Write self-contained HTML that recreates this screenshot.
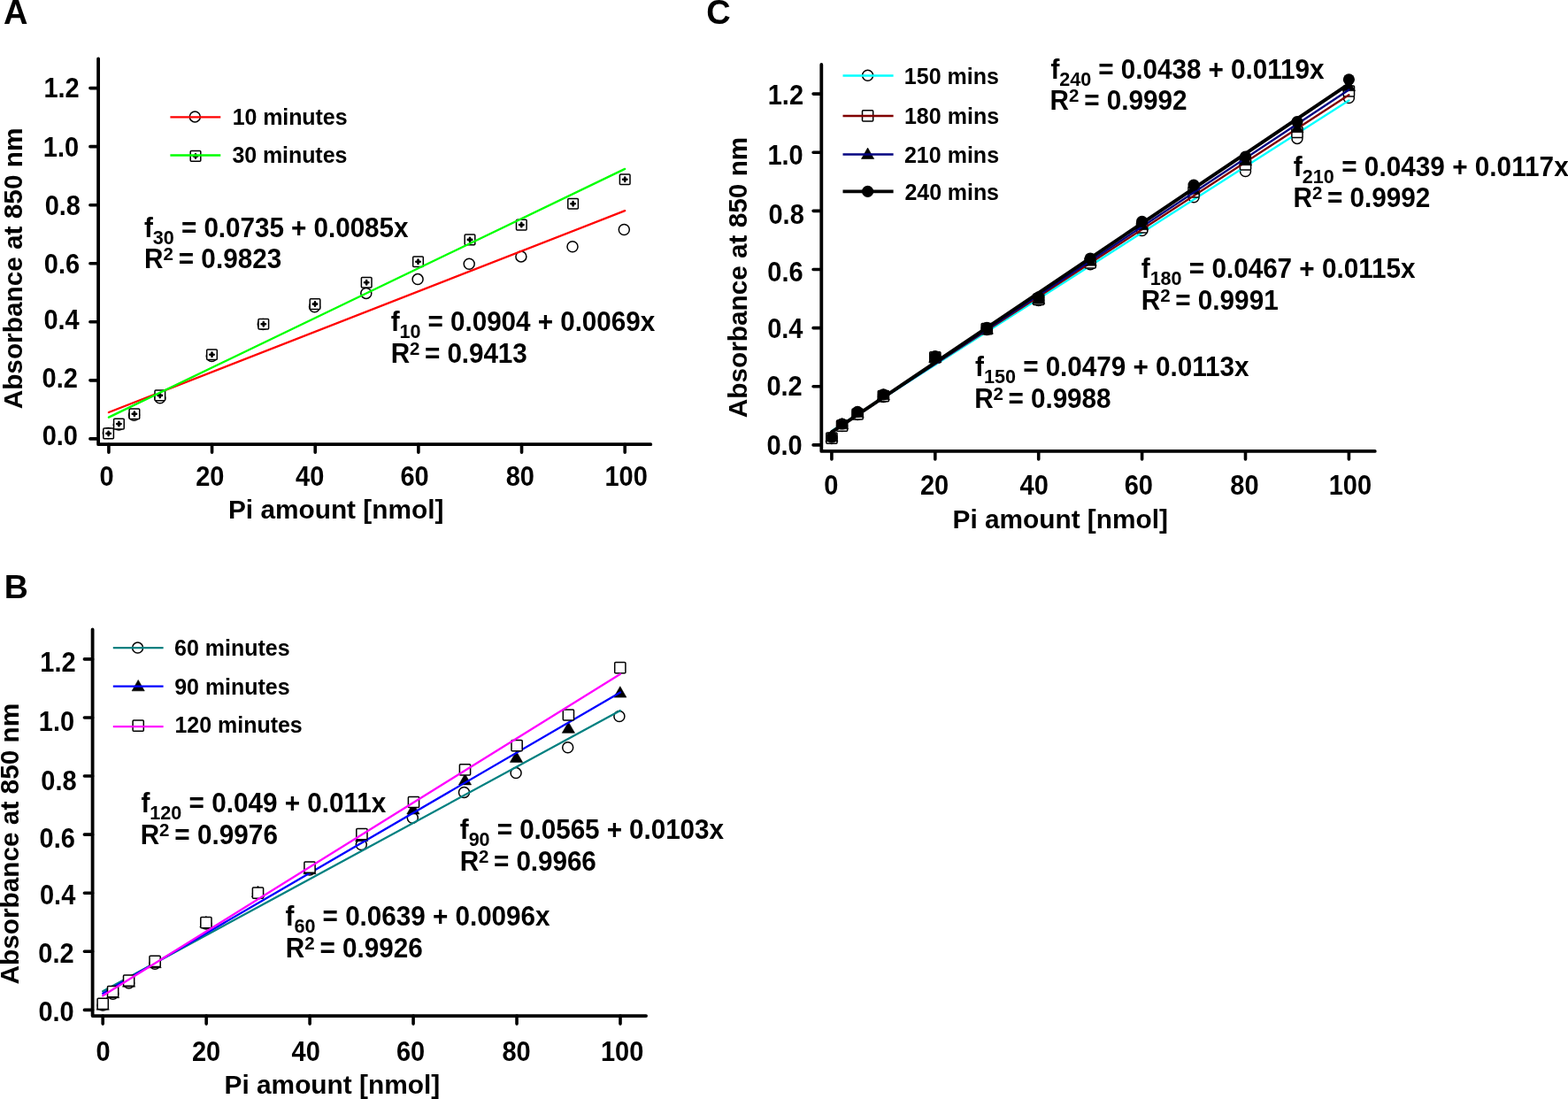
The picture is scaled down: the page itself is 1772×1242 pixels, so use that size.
<!DOCTYPE html><html><head><meta charset="utf-8"><title>Pi calibration curves</title><style>html,body{margin:0;padding:0;background:#fff;overflow:hidden}svg{display:block}</style></head><body>
<svg width="1772" height="1242" viewBox="0 0 1772 1242" style="font-family:'Liberation Sans',Arial,Helvetica,sans-serif;font-weight:bold">
<rect width="1772" height="1242" fill="#fff"/>
<text transform="translate(4.01 27)" font-size="38">A</text>
<path d="M111.1 66.3L111.1 502.2L735.3 502.2" fill="none" stroke="#000" stroke-width="3.8" stroke-linecap="round" stroke-linejoin="round"/>
<path d="M111.1 495.9H101.9M111.1 429.85H101.9M111.1 363.8H101.9M111.1 297.75H101.9M111.1 231.7H101.9M111.1 165.65H101.9M111.1 99.6H101.9M122.9 502.2V511.2M239.56 502.2V511.2M356.22 502.2V511.2M472.88 502.2V511.2M589.54 502.2V511.2M706.2 502.2V511.2" fill="none" stroke="#000" stroke-width="3.6" stroke-linecap="round"/>
<text transform="translate(87.98 503.11) scale(1 1.05)" font-size="29" text-anchor="end">0.0</text>
<text transform="translate(87.9 437.82) scale(1 1.05)" font-size="29" text-anchor="end">0.2</text>
<text transform="translate(89.69 371.98) scale(1 1.05)" font-size="29" text-anchor="end">0.4</text>
<text transform="translate(90.15 308.94) scale(1 1.05)" font-size="29" text-anchor="end">0.6</text>
<text transform="translate(90.96 243.2) scale(1 1.05)" font-size="29" text-anchor="end">0.8</text>
<text transform="translate(89.12 176.63) scale(1 1.05)" font-size="29" text-anchor="end">1.0</text>
<text transform="translate(89.74 110.29) scale(1 1.05)" font-size="29" text-anchor="end">1.2</text>
<text transform="translate(120.57 549.2) scale(1 1.05)" font-size="29" text-anchor="middle">0</text>
<text transform="translate(237.32 549.2) scale(1 1.05)" font-size="29" text-anchor="middle">20</text>
<text transform="translate(350.23 549.2) scale(1 1.05)" font-size="29" text-anchor="middle">40</text>
<text transform="translate(468.5 549.2) scale(1 1.05)" font-size="29" text-anchor="middle">60</text>
<text transform="translate(587.8 549.2) scale(1 1.05)" font-size="29" text-anchor="middle">80</text>
<text transform="translate(707.57 549.2) scale(1 1.05)" font-size="29" text-anchor="middle">100</text>
<text transform="translate(25.42 303.48) rotate(-90) scale(1.0451 1.04)" font-size="28.5" text-anchor="middle">Absorbance at 850 nm</text>
<text transform="translate(379.65 586.38) scale(1.0283 1)" font-size="29" text-anchor="middle">Pi amount [nmol]</text>
<circle cx="122.3" cy="489.6" r="6" fill="#fff" stroke="#000" stroke-width="1.5"/>
<circle cx="134.3" cy="480" r="6" fill="#fff" stroke="#000" stroke-width="1.5"/>
<circle cx="151.5" cy="469.3" r="6" fill="#fff" stroke="#000" stroke-width="1.5"/>
<circle cx="180.8" cy="449.8" r="6" fill="#fff" stroke="#000" stroke-width="1.5"/>
<circle cx="239.3" cy="402.6" r="6" fill="#fff" stroke="#000" stroke-width="1.5"/>
<circle cx="297.3" cy="366.6" r="6" fill="#fff" stroke="#000" stroke-width="1.5"/>
<circle cx="355.5" cy="346.8" r="6" fill="#fff" stroke="#000" stroke-width="1.5"/>
<circle cx="413.8" cy="331.4" r="6" fill="#fff" stroke="#000" stroke-width="1.5"/>
<circle cx="472.1" cy="315.6" r="6" fill="#fff" stroke="#000" stroke-width="1.5"/>
<circle cx="530.2" cy="298.3" r="6" fill="#fff" stroke="#000" stroke-width="1.5"/>
<circle cx="588.9" cy="289.9" r="6" fill="#fff" stroke="#000" stroke-width="1.5"/>
<circle cx="647" cy="278.7" r="6" fill="#fff" stroke="#000" stroke-width="1.5"/>
<circle cx="705.3" cy="259.5" r="6" fill="#fff" stroke="#000" stroke-width="1.5"/>
<path d="M122.9 466.05L706.2 238.17" stroke="#ff0000" stroke-width="2.3" stroke-linecap="round"/>
<rect x="116.8" y="484.1" width="11.6" height="11.6" rx="1" fill="#fff" stroke="#000" stroke-width="1.5"/>
<path d="M120.4 489.9h4.4M122.6 487.7v4.4" stroke="#000" stroke-width="2.6" stroke-linecap="round"/>
<rect x="128.6" y="473.3" width="11.6" height="11.6" rx="1" fill="#fff" stroke="#000" stroke-width="1.5"/>
<path d="M132.2 479.1h4.4M134.4 476.9v4.4" stroke="#000" stroke-width="2.6" stroke-linecap="round"/>
<rect x="146.1" y="461.9" width="11.6" height="11.6" rx="1" fill="#fff" stroke="#000" stroke-width="1.5"/>
<path d="M149.7 467.7h4.4M151.9 465.5v4.4" stroke="#000" stroke-width="2.6" stroke-linecap="round"/>
<rect x="175" y="441.1" width="11.6" height="11.6" rx="1" fill="#fff" stroke="#000" stroke-width="1.5"/>
<path d="M178.6 446.9h4.4M180.8 444.7v4.4" stroke="#000" stroke-width="2.6" stroke-linecap="round"/>
<rect x="233.7" y="394.9" width="11.6" height="11.6" rx="1" fill="#fff" stroke="#000" stroke-width="1.5"/>
<path d="M237.3 400.7h4.4M239.5 398.5v4.4" stroke="#000" stroke-width="2.6" stroke-linecap="round"/>
<rect x="292" y="360.4" width="11.6" height="11.6" rx="1" fill="#fff" stroke="#000" stroke-width="1.5"/>
<path d="M295.6 366.2h4.4M297.8 364v4.4" stroke="#000" stroke-width="2.6" stroke-linecap="round"/>
<rect x="350.2" y="337.8" width="11.6" height="11.6" rx="1" fill="#fff" stroke="#000" stroke-width="1.5"/>
<path d="M353.8 343.6h4.4M356 341.4v4.4" stroke="#000" stroke-width="2.6" stroke-linecap="round"/>
<rect x="408.4" y="313.5" width="11.6" height="11.6" rx="1" fill="#fff" stroke="#000" stroke-width="1.5"/>
<path d="M412 319.3h4.4M414.2 317.1v4.4" stroke="#000" stroke-width="2.6" stroke-linecap="round"/>
<rect x="466.7" y="290" width="11.6" height="11.6" rx="1" fill="#fff" stroke="#000" stroke-width="1.5"/>
<path d="M470.3 295.8h4.4M472.5 293.6v4.4" stroke="#000" stroke-width="2.6" stroke-linecap="round"/>
<rect x="525.2" y="265.1" width="11.6" height="11.6" rx="1" fill="#fff" stroke="#000" stroke-width="1.5"/>
<path d="M528.8 270.9h4.4M531 268.7v4.4" stroke="#000" stroke-width="2.6" stroke-linecap="round"/>
<rect x="583.5" y="248.3" width="11.6" height="11.6" rx="1" fill="#fff" stroke="#000" stroke-width="1.5"/>
<path d="M587.1 254.1h4.4M589.3 251.9v4.4" stroke="#000" stroke-width="2.6" stroke-linecap="round"/>
<rect x="641.8" y="224.5" width="11.6" height="11.6" rx="1" fill="#fff" stroke="#000" stroke-width="1.5"/>
<path d="M645.4 230.3h4.4M647.6 228.1v4.4" stroke="#000" stroke-width="2.6" stroke-linecap="round"/>
<rect x="700.4" y="196.9" width="11.6" height="11.6" rx="1" fill="#fff" stroke="#000" stroke-width="1.5"/>
<path d="M704 202.7h4.4M706.2 200.5v4.4" stroke="#000" stroke-width="2.6" stroke-linecap="round"/>
<path d="M122.9 471.63L706.2 190.91" stroke="#00ff00" stroke-width="2.3" stroke-linecap="round"/>
<circle cx="220.3" cy="131.9" r="6" fill="#fff" stroke="#000" stroke-width="1.5"/>
<path d="M192.4 132.3H249.3" stroke="#ff0000" stroke-width="2.3"/>
<rect x="215.2" y="170.6" width="11.6" height="11.6" rx="1" fill="#fff" stroke="#000" stroke-width="1.5"/>
<path d="M218.8 176.4h4.4M221 174.2v4.4" stroke="#000" stroke-width="2.6" stroke-linecap="round"/>
<path d="M192.4 175.5H249.3" stroke="#00ff00" stroke-width="2.3"/>
<text transform="translate(262.65 141.16)" font-size="25" letter-spacing="-0.08">10 minutes</text>
<text transform="translate(262.39 184.2)" font-size="25" letter-spacing="-0.07">30 minutes</text>
<text transform="translate(162.98 267.85) scale(1 1.03)" font-size="29.7" letter-spacing="-0.05">f<tspan font-size="21.6" dy="7.9">30</tspan><tspan dy="-7.9"> = 0.0735 + 0.0085x</tspan></text>
<text transform="translate(162.96 303.05) scale(1 1.03)" font-size="29.7" letter-spacing="0.05">R<tspan font-size="20.5" dy="-9">2</tspan><tspan dy="9" font-size="20.5"> </tspan>= 0.9823</text>
<text transform="translate(441.65 373.85) scale(1 1.03)" font-size="29.7" letter-spacing="-0.05">f<tspan font-size="21.6" dy="7.9">10</tspan><tspan dy="-7.9"> = 0.0904 + 0.0069x</tspan></text>
<text transform="translate(441.73 409.85) scale(1 1.03)" font-size="29.7" letter-spacing="-0.09">R<tspan font-size="20.5" dy="-9">2</tspan><tspan dy="9" font-size="20.5"> </tspan>= 0.9413</text>
<text transform="translate(4.66 675.57)" font-size="37.5">B</text>
<path d="M104.6 711.5L104.6 1148.1L730.1 1148.1" fill="none" stroke="#000" stroke-width="3.8" stroke-linecap="round" stroke-linejoin="round"/>
<path d="M104.6 1141.4H95.4M104.6 1075.32H95.4M104.6 1009.23H95.4M104.6 943.15H95.4M104.6 877.07H95.4M104.6 810.98H95.4M104.6 744.9H95.4M116.2 1148.1V1157.1M233.16 1148.1V1157.1M350.12 1148.1V1157.1M467.08 1148.1V1157.1M584.04 1148.1V1157.1M701 1148.1V1157.1" fill="none" stroke="#000" stroke-width="3.6" stroke-linecap="round"/>
<text transform="translate(83.69 1153.52) scale(1 1.05)" font-size="29" text-anchor="end">0.0</text>
<text transform="translate(83.58 1087.94) scale(1 1.05)" font-size="29" text-anchor="end">0.2</text>
<text transform="translate(85.26 1022.35) scale(1 1.05)" font-size="29" text-anchor="end">0.4</text>
<text transform="translate(84.86 958.3) scale(1 1.05)" font-size="29" text-anchor="end">0.6</text>
<text transform="translate(86.6 893.48) scale(1 1.05)" font-size="29" text-anchor="end">0.8</text>
<text transform="translate(84.12 826.43) scale(1 1.05)" font-size="29" text-anchor="end">1.0</text>
<text transform="translate(85.58 758.54) scale(1 1.05)" font-size="29" text-anchor="end">1.2</text>
<text transform="translate(116.57 1199.45) scale(1 1.05)" font-size="29" text-anchor="middle">0</text>
<text transform="translate(233.11 1199.45) scale(1 1.05)" font-size="29" text-anchor="middle">20</text>
<text transform="translate(345.7 1199.45) scale(1 1.05)" font-size="29" text-anchor="middle">40</text>
<text transform="translate(464.02 1199.45) scale(1 1.05)" font-size="29" text-anchor="middle">60</text>
<text transform="translate(583.6 1199.45) scale(1 1.05)" font-size="29" text-anchor="middle">80</text>
<text transform="translate(703.13 1199.45) scale(1 1.05)" font-size="29" text-anchor="middle">100</text>
<text transform="translate(21.34 953.68) rotate(-90) scale(1.0454 1.04)" font-size="28.5" text-anchor="middle">Absorbance at 850 nm</text>
<text transform="translate(375.34 1236.24) scale(1.0294 1)" font-size="29" text-anchor="middle">Pi amount [nmol]</text>
<circle cx="116.2" cy="1136" r="6" fill="#fff" stroke="#000" stroke-width="1.5"/>
<circle cx="127.6" cy="1123.3" r="6" fill="#fff" stroke="#000" stroke-width="1.5"/>
<circle cx="145.6" cy="1111" r="6" fill="#fff" stroke="#000" stroke-width="1.5"/>
<circle cx="175.1" cy="1089.3" r="6" fill="#fff" stroke="#000" stroke-width="1.5"/>
<circle cx="232.9" cy="1044" r="6" fill="#fff" stroke="#000" stroke-width="1.5"/>
<circle cx="291.5" cy="1010" r="6" fill="#fff" stroke="#000" stroke-width="1.5"/>
<circle cx="350" cy="983" r="6" fill="#fff" stroke="#000" stroke-width="1.5"/>
<circle cx="408.3" cy="954.6" r="6" fill="#fff" stroke="#000" stroke-width="1.5"/>
<circle cx="466.3" cy="924.3" r="6" fill="#fff" stroke="#000" stroke-width="1.5"/>
<circle cx="524.5" cy="895.4" r="6" fill="#fff" stroke="#000" stroke-width="1.5"/>
<circle cx="583.1" cy="873.6" r="6" fill="#fff" stroke="#000" stroke-width="1.5"/>
<circle cx="641.7" cy="844.7" r="6" fill="#fff" stroke="#000" stroke-width="1.5"/>
<circle cx="699.9" cy="809.5" r="6" fill="#fff" stroke="#000" stroke-width="1.5"/>
<path d="M116.2 1120.29L701 803.09" stroke="#008080" stroke-width="2.3" stroke-linecap="round"/>
<path d="M116.2 1128.8L123.3 1141.2L109.1 1141.2Z" fill="#000" stroke="#000" stroke-width="0.6"/>
<path d="M127.6 1115.3L134.7 1127.7L120.5 1127.7Z" fill="#000" stroke="#000" stroke-width="0.6"/>
<path d="M145.6 1102.8L152.7 1115.2L138.5 1115.2Z" fill="#000" stroke="#000" stroke-width="0.6"/>
<path d="M175.1 1081.3L182.2 1093.7L168 1093.7Z" fill="#000" stroke="#000" stroke-width="0.6"/>
<path d="M232.9 1035.3L240 1047.7L225.8 1047.7Z" fill="#000" stroke="#000" stroke-width="0.6"/>
<path d="M291.5 1001.1L298.6 1013.5L284.4 1013.5Z" fill="#000" stroke="#000" stroke-width="0.6"/>
<path d="M350 975.3L357.1 987.7L342.9 987.7Z" fill="#000" stroke="#000" stroke-width="0.6"/>
<path d="M408.7 938.3L415.8 950.7L401.6 950.7Z" fill="#000" stroke="#000" stroke-width="0.6"/>
<path d="M466.9 907.6L474 920L459.8 920Z" fill="#000" stroke="#000" stroke-width="0.6"/>
<path d="M525.5 874.5L532.6 886.9L518.4 886.9Z" fill="#000" stroke="#000" stroke-width="0.6"/>
<path d="M583.5 849L590.6 861.4L576.4 861.4Z" fill="#000" stroke="#000" stroke-width="0.6"/>
<path d="M642.4 815.9L649.5 828.3L635.3 828.3Z" fill="#000" stroke="#000" stroke-width="0.6"/>
<path d="M700.8 775.7L707.9 788.1L693.7 788.1Z" fill="#000" stroke="#000" stroke-width="0.6"/>
<path d="M116.2 1122.73L701 782.4" stroke="#0000ff" stroke-width="2.3" stroke-linecap="round"/>
<rect x="110.1" y="1128.2" width="12.2" height="12.2" rx="1" fill="#fff" stroke="#000" stroke-width="1.5"/>
<rect x="121.5" y="1114.6" width="12.2" height="12.2" rx="1" fill="#fff" stroke="#000" stroke-width="1.5"/>
<rect x="139.5" y="1102" width="12.2" height="12.2" rx="1" fill="#fff" stroke="#000" stroke-width="1.5"/>
<rect x="169" y="1080.3" width="12.2" height="12.2" rx="1" fill="#fff" stroke="#000" stroke-width="1.5"/>
<rect x="226.8" y="1036.6" width="12.2" height="12.2" rx="1" fill="#fff" stroke="#000" stroke-width="1.5"/>
<rect x="285.4" y="1003" width="12.2" height="12.2" rx="1" fill="#fff" stroke="#000" stroke-width="1.5"/>
<rect x="343.9" y="974.1" width="12.2" height="12.2" rx="1" fill="#fff" stroke="#000" stroke-width="1.5"/>
<rect x="402.8" y="936.6" width="12.2" height="12.2" rx="1" fill="#fff" stroke="#000" stroke-width="1.5"/>
<rect x="461.4" y="900.4" width="12.2" height="12.2" rx="1" fill="#fff" stroke="#000" stroke-width="1.5"/>
<rect x="519.4" y="863.7" width="12.2" height="12.2" rx="1" fill="#fff" stroke="#000" stroke-width="1.5"/>
<rect x="578" y="836.5" width="12.2" height="12.2" rx="1" fill="#fff" stroke="#000" stroke-width="1.5"/>
<rect x="636.3" y="801.9" width="12.2" height="12.2" rx="1" fill="#fff" stroke="#000" stroke-width="1.5"/>
<rect x="694.7" y="748.6" width="12.2" height="12.2" rx="1" fill="#fff" stroke="#000" stroke-width="1.5"/>
<path d="M116.2 1125.21L701 761.75" stroke="#ff00ff" stroke-width="2.3" stroke-linecap="round"/>
<circle cx="155.6" cy="732.1" r="6" fill="#fff" stroke="#000" stroke-width="1.5"/>
<path d="M127.8 732.1H184.6" stroke="#008080" stroke-width="2.3"/>
<path d="M156.2 768.4L163.3 780.8L149.1 780.8Z" fill="#000" stroke="#000" stroke-width="0.6"/>
<path d="M127.8 775.7H184.6" stroke="#0000ff" stroke-width="2.3"/>
<rect x="150.1" y="814" width="12.2" height="12.2" rx="1" fill="#fff" stroke="#000" stroke-width="1.5"/>
<path d="M127.8 821.2H184.6" stroke="#ff00ff" stroke-width="2.3"/>
<text transform="translate(197.09 740.8)" font-size="25" letter-spacing="-0.01">60 minutes</text>
<text transform="translate(197.22 784.54)" font-size="25" letter-spacing="-0.02">90 minutes</text>
<text transform="translate(197.42 828.28)" font-size="25" letter-spacing="-0.02">120 minutes</text>
<text transform="translate(159.41 917.85) scale(1 1.03)" font-size="29.7" letter-spacing="-0">f<tspan font-size="21.6" dy="7.9">120</tspan><tspan dy="-7.9"> = 0.049 + 0.011x</tspan></text>
<text transform="translate(158.63 953.95) scale(1 1.03)" font-size="29.7" letter-spacing="0.04">R<tspan font-size="20.5" dy="-9">2</tspan><tspan dy="9" font-size="20.5"> </tspan>= 0.9976</text>
<text transform="translate(519.85 948.05) scale(1 1.03)" font-size="29.7" letter-spacing="-0.07">f<tspan font-size="21.6" dy="7.9">90</tspan><tspan dy="-7.9"> = 0.0565 + 0.0103x</tspan></text>
<text transform="translate(519.65 984.15) scale(1 1.03)" font-size="29.7" letter-spacing="-0.07">R<tspan font-size="20.5" dy="-9">2</tspan><tspan dy="9" font-size="20.5"> </tspan>= 0.9966</text>
<text transform="translate(322.58 1046.25) scale(1 1.03)" font-size="29.7" letter-spacing="-0.03">f<tspan font-size="21.6" dy="7.9">60</tspan><tspan dy="-7.9"> = 0.0639 + 0.0096x</tspan></text>
<text transform="translate(322.87 1082.35) scale(1 1.03)" font-size="29.7" letter-spacing="0.01">R<tspan font-size="20.5" dy="-9">2</tspan><tspan dy="9" font-size="20.5"> </tspan>= 0.9926</text>
<text transform="translate(798.13 27.32)" font-size="38">C</text>
<path d="M928.3 73L928.3 509.9L1553.8 509.9" fill="none" stroke="#000" stroke-width="3.8" stroke-linecap="round" stroke-linejoin="round"/>
<path d="M928.3 502.9H919.1M928.3 436.77H919.1M928.3 370.63H919.1M928.3 304.5H919.1M928.3 238.37H919.1M928.3 172.23H919.1M928.3 106.1H919.1M939.9 509.9V518.9M1056.8 509.9V518.9M1173.7 509.9V518.9M1290.6 509.9V518.9M1407.5 509.9V518.9M1524.4 509.9V518.9" fill="none" stroke="#000" stroke-width="3.6" stroke-linecap="round"/>
<text transform="translate(906.75 513.76) scale(1 1.05)" font-size="29" text-anchor="end">0.0</text>
<text transform="translate(906.69 447.37) scale(1 1.05)" font-size="29" text-anchor="end">0.2</text>
<text transform="translate(907.46 381.73) scale(1 1.05)" font-size="29" text-anchor="end">0.4</text>
<text transform="translate(907.68 318.33) scale(1 1.05)" font-size="29" text-anchor="end">0.6</text>
<text transform="translate(908.76 252.99) scale(1 1.05)" font-size="29" text-anchor="end">0.8</text>
<text transform="translate(907.75 185.82) scale(1 1.05)" font-size="29" text-anchor="end">1.0</text>
<text transform="translate(908.05 118.45) scale(1 1.05)" font-size="29" text-anchor="end">1.2</text>
<text transform="translate(939.29 558.82) scale(1 1.05)" font-size="29" text-anchor="middle">0</text>
<text transform="translate(1056.05 558.75) scale(1 1.05)" font-size="29" text-anchor="middle">20</text>
<text transform="translate(1168.73 558.75) scale(1 1.05)" font-size="29" text-anchor="middle">40</text>
<text transform="translate(1286.8 558.75) scale(1 1.05)" font-size="29" text-anchor="middle">60</text>
<text transform="translate(1406.42 558.75) scale(1 1.05)" font-size="29" text-anchor="middle">80</text>
<text transform="translate(1525.85 558.75) scale(1 1.05)" font-size="29" text-anchor="middle">100</text>
<text transform="translate(843.92 313.45) rotate(-90) scale(1.0449 1.04)" font-size="28.5" text-anchor="middle">Absorbance at 850 nm</text>
<text transform="translate(1198.2 596.52) scale(1.0277 1)" font-size="29" text-anchor="middle">Pi amount [nmol]</text>
<circle cx="939.9" cy="495.5" r="6" fill="#fff" stroke="#000" stroke-width="1.5"/>
<circle cx="951.59" cy="481.5" r="6" fill="#fff" stroke="#000" stroke-width="1.5"/>
<circle cx="969.12" cy="468.5" r="6" fill="#fff" stroke="#000" stroke-width="1.5"/>
<circle cx="998.35" cy="448.5" r="6" fill="#fff" stroke="#000" stroke-width="1.5"/>
<circle cx="1056.8" cy="404.5" r="6" fill="#fff" stroke="#000" stroke-width="1.5"/>
<circle cx="1115.25" cy="372.5" r="6" fill="#fff" stroke="#000" stroke-width="1.5"/>
<circle cx="1173.7" cy="339.5" r="6" fill="#fff" stroke="#000" stroke-width="1.5"/>
<circle cx="1232.15" cy="298.8" r="6" fill="#fff" stroke="#000" stroke-width="1.5"/>
<circle cx="1290.6" cy="260.5" r="6" fill="#fff" stroke="#000" stroke-width="1.5"/>
<circle cx="1349.05" cy="222.8" r="6" fill="#fff" stroke="#000" stroke-width="1.5"/>
<circle cx="1407.5" cy="193.5" r="6" fill="#fff" stroke="#000" stroke-width="1.5"/>
<circle cx="1465.95" cy="156.4" r="6" fill="#fff" stroke="#000" stroke-width="1.5"/>
<circle cx="1524.4" cy="110.6" r="6" fill="#fff" stroke="#000" stroke-width="1.5"/>
<path d="M939.9 487.06L1524.4 113.41" stroke="#00ffff" stroke-width="2.3" stroke-linecap="round"/>
<rect x="933.8" y="489.1" width="12.2" height="12.2" rx="1" fill="#fff" stroke="#000" stroke-width="1.5"/>
<rect x="945.49" y="475.1" width="12.2" height="12.2" rx="1" fill="#fff" stroke="#000" stroke-width="1.5"/>
<rect x="963.02" y="461.9" width="12.2" height="12.2" rx="1" fill="#fff" stroke="#000" stroke-width="1.5"/>
<rect x="992.25" y="441.5" width="12.2" height="12.2" rx="1" fill="#fff" stroke="#000" stroke-width="1.5"/>
<rect x="1050.7" y="397.7" width="12.2" height="12.2" rx="1" fill="#fff" stroke="#000" stroke-width="1.5"/>
<rect x="1109.15" y="365.6" width="12.2" height="12.2" rx="1" fill="#fff" stroke="#000" stroke-width="1.5"/>
<rect x="1167.6" y="332.2" width="12.2" height="12.2" rx="1" fill="#fff" stroke="#000" stroke-width="1.5"/>
<rect x="1226.05" y="290.9" width="12.2" height="12.2" rx="1" fill="#fff" stroke="#000" stroke-width="1.5"/>
<rect x="1284.5" y="250.9" width="12.2" height="12.2" rx="1" fill="#fff" stroke="#000" stroke-width="1.5"/>
<rect x="1342.95" y="210.7" width="12.2" height="12.2" rx="1" fill="#fff" stroke="#000" stroke-width="1.5"/>
<rect x="1401.4" y="179.9" width="12.2" height="12.2" rx="1" fill="#fff" stroke="#000" stroke-width="1.5"/>
<rect x="1459.85" y="143.4" width="12.2" height="12.2" rx="1" fill="#fff" stroke="#000" stroke-width="1.5"/>
<rect x="1518.3" y="96.9" width="12.2" height="12.2" rx="1" fill="#fff" stroke="#000" stroke-width="1.5"/>
<path d="M939.9 487.46L1524.4 107.19" stroke="#800000" stroke-width="2.3" stroke-linecap="round"/>
<path d="M939.9 486.6L947 499L932.8 499Z" fill="#000" stroke="#000" stroke-width="0.6"/>
<path d="M951.59 472.4L958.69 484.8L944.49 484.8Z" fill="#000" stroke="#000" stroke-width="0.6"/>
<path d="M969.12 459.2L976.23 471.6L962.02 471.6Z" fill="#000" stroke="#000" stroke-width="0.6"/>
<path d="M998.35 439.4L1005.45 451.8L991.25 451.8Z" fill="#000" stroke="#000" stroke-width="0.6"/>
<path d="M1056.8 397.1L1063.9 409.5L1049.7 409.5Z" fill="#000" stroke="#000" stroke-width="0.6"/>
<path d="M1115.25 364.8L1122.35 377.2L1108.15 377.2Z" fill="#000" stroke="#000" stroke-width="0.6"/>
<path d="M1173.7 330.8L1180.8 343.2L1166.6 343.2Z" fill="#000" stroke="#000" stroke-width="0.6"/>
<path d="M1232.15 287.8L1239.25 300.2L1225.05 300.2Z" fill="#000" stroke="#000" stroke-width="0.6"/>
<path d="M1290.6 247.3L1297.7 259.7L1283.5 259.7Z" fill="#000" stroke="#000" stroke-width="0.6"/>
<path d="M1349.05 206.8L1356.15 219.2L1341.95 219.2Z" fill="#000" stroke="#000" stroke-width="0.6"/>
<path d="M1407.5 174.3L1414.6 186.7L1400.4 186.7Z" fill="#000" stroke="#000" stroke-width="0.6"/>
<path d="M1465.95 137.3L1473.05 149.7L1458.85 149.7Z" fill="#000" stroke="#000" stroke-width="0.6"/>
<path d="M1524.4 90.3L1531.5 102.7L1517.3 102.7Z" fill="#000" stroke="#000" stroke-width="0.6"/>
<path d="M939.9 488.38L1524.4 101.5" stroke="#000080" stroke-width="2.3" stroke-linecap="round"/>
<circle cx="939.9" cy="494.1" r="6.6" fill="#000"/>
<circle cx="951.59" cy="479" r="6.6" fill="#000"/>
<circle cx="969.12" cy="465.3" r="6.6" fill="#000"/>
<circle cx="998.35" cy="445.9" r="6.6" fill="#000"/>
<circle cx="1056.8" cy="402.6" r="6.6" fill="#000"/>
<circle cx="1115.25" cy="370.4" r="6.6" fill="#000"/>
<circle cx="1173.7" cy="335.9" r="6.6" fill="#000"/>
<circle cx="1232.15" cy="292" r="6.6" fill="#000"/>
<circle cx="1290.6" cy="250.3" r="6.6" fill="#000"/>
<circle cx="1349.05" cy="209.1" r="6.6" fill="#000"/>
<circle cx="1407.5" cy="177.2" r="6.6" fill="#000"/>
<circle cx="1465.95" cy="137.6" r="6.6" fill="#000"/>
<circle cx="1524.4" cy="89.8" r="6.6" fill="#000"/>
<path d="M939.9 488.42L1524.4 94.92" stroke="#000000" stroke-width="4" stroke-linecap="round"/>
<circle cx="980.6" cy="85.3" r="6" fill="#fff" stroke="#000" stroke-width="1.5"/>
<path d="M952.5 85.5H1009.6" stroke="#00ffff" stroke-width="2.3"/>
<rect x="974.5" y="124.7" width="12.2" height="12.2" rx="1" fill="#fff" stroke="#000" stroke-width="1.5"/>
<path d="M952.5 131H1009.6" stroke="#800000" stroke-width="2.3"/>
<path d="M980.6 167.1L987.7 179.5L973.5 179.5Z" fill="#000" stroke="#000" stroke-width="0.6"/>
<path d="M952.5 174.5H1009.6" stroke="#000080" stroke-width="2.3"/>
<circle cx="980.6" cy="216.3" r="6.6" fill="#000"/>
<path d="M952.5 216.3H1009.6" stroke="#000" stroke-width="3.8"/>
<text transform="translate(1021.86 95.16)" font-size="25" letter-spacing="0.01">150 mins</text>
<text transform="translate(1021.91 140.44)" font-size="25" letter-spacing="0.03">180 mins</text>
<text transform="translate(1021.96 184.16)" font-size="25" letter-spacing="0.01">210 mins</text>
<text transform="translate(1022.44 225.72)" font-size="25" letter-spacing="-0.06">240 mins</text>
<text transform="translate(1187.38 88.75) scale(1 1.03)" font-size="29.7" letter-spacing="-0.04">f<tspan font-size="21.6" dy="7.9">240</tspan><tspan dy="-7.9"> = 0.0438 + 0.0119x</tspan></text>
<text transform="translate(1186.62 124.25) scale(1 1.03)" font-size="29.7" letter-spacing="-0.01">R<tspan font-size="20.5" dy="-9">2</tspan><tspan dy="9" font-size="20.5"> </tspan>= 0.9992</text>
<text transform="translate(1461.84 198.55) scale(1 1.03)" font-size="29.7" letter-spacing="0.04">f<tspan font-size="21.6" dy="7.9">210</tspan><tspan dy="-7.9"> = 0.0439 + 0.0117x</tspan></text>
<text transform="translate(1461.59 233.95) scale(1 1.03)" font-size="29.7" letter-spacing="-0.03">R<tspan font-size="20.5" dy="-9">2</tspan><tspan dy="9" font-size="20.5"> </tspan>= 0.9992</text>
<text transform="translate(1289.75 313.85) scale(1 1.03)" font-size="29.7" letter-spacing="-0.01">f<tspan font-size="21.6" dy="7.9">180</tspan><tspan dy="-7.9"> = 0.0467 + 0.0115x</tspan></text>
<text transform="translate(1289.75 350.15) scale(1 1.03)" font-size="29.7">R<tspan font-size="20.5" dy="-9">2</tspan><tspan dy="9" font-size="20.5"> </tspan>= 0.9991</text>
<text transform="translate(1102.12 425.35) scale(1 1.03)" font-size="29.7" letter-spacing="-0.03">f<tspan font-size="21.6" dy="7.9">150</tspan><tspan dy="-7.9"> = 0.0479 + 0.0113x</tspan></text>
<text transform="translate(1101.22 461.15) scale(1 1.03)" font-size="29.7" letter-spacing="-0.06">R<tspan font-size="20.5" dy="-9">2</tspan><tspan dy="9" font-size="20.5"> </tspan>= 0.9988</text>
</svg></body></html>
